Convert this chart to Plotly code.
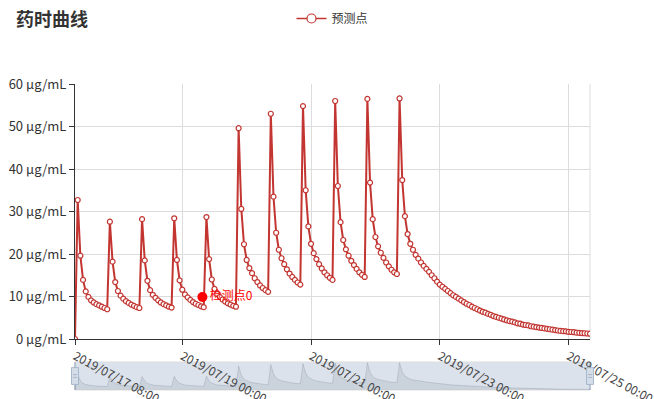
import pandas as pd
import plotly.graph_objects as go

# ---------------- data ----------------
start_time = "2019-07-17 08:00"          # first prediction point, hourly samples
cycle1 = [0, 32.7, 19.6, 13.9, 11.2, 9.9, 9.1, 8.6, 8.2, 7.9, 7.6, 7.3, 7.0]
cycle2 = [27.6, 18.2, 13.4, 11.3, 10.2, 9.5, 8.9, 8.5, 8.1, 7.8, 7.5, 7.3]
cycle3 = [28.2, 18.5, 13.7, 11.5, 10.4, 9.7, 9.1, 8.6, 8.2, 7.9, 7.6, 7.4]
cycle4 = [28.4, 18.6, 13.8, 11.6, 10.5, 9.8, 9.2, 8.7, 8.3, 8.0, 7.7, 7.5]
cycle5 = [28.7, 18.8, 14.0, 11.8, 10.6, 9.9, 9.3, 8.8, 8.4, 8.1, 7.8, 7.6]
cycle6 = [49.6, 30.6, 22.3, 18.6, 16.7, 15.5, 14.3, 13.4, 12.6, 12.0, 11.5, 11.1]
cycle7 = [53.0, 33.5, 25.0, 21.0, 19.0, 17.6, 16.4, 15.4, 14.6, 13.9, 13.3, 12.8]
cycle8 = [54.8, 35.0, 26.5, 22.4, 20.2, 18.8, 17.6, 16.6, 15.7, 15.0, 14.4, 13.9]
cycle9 = [56.0, 36.0, 27.5, 23.3, 21.1, 19.6, 18.4, 17.4, 16.5, 15.7, 15.1, 14.6]
cycle10 = [56.5, 36.8, 28.2, 24.0, 21.8, 20.3, 19.1, 18.0, 17.1, 16.3, 15.7, 15.3]
cycle11 = [56.6, 37.4, 28.9, 24.7, 22.4, 21.0, 19.8, 18.9, 18.0, 17.2, 16.5, 15.8]
tail = [15.0, 14.3, 13.5, 12.8, 12.3, 11.8, 11.3, 10.8, 10.3, 9.9,
        9.5, 9.1, 8.7, 8.3, 8.0, 7.6, 7.3, 7.0, 6.7, 6.4,
        6.2, 5.9, 5.7, 5.4, 5.2, 5.0, 4.8, 4.6, 4.4, 4.2,
        4.1, 3.9, 3.7, 3.6, 3.4, 3.3, 3.2, 3.0, 2.9, 2.8,
        2.7, 2.6, 2.5, 2.4, 2.3, 2.2, 2.1, 2.0, 1.9, 1.85,
        1.8, 1.7, 1.65, 1.6, 1.5, 1.45, 1.4, 1.35, 1.3, 1.25]

pred_values = (cycle1 + cycle2 + cycle3 + cycle4 + cycle5 + cycle6 + cycle7
               + cycle8 + cycle9 + cycle10 + cycle11 + tail)
pred_times = pd.date_range(start_time, periods=len(pred_values), freq="h")

check_times = ["2019-07-19 07:30"]
check_values = [9.9]
check_labels = ["检测点0"]

x_tickvals = ["2019-07-17 08:00", "2019-07-19 00:00", "2019-07-21 00:00",
              "2019-07-23 00:00", "2019-07-25 00:00"]
x_ticktext = ["2019/07/17 08:00", "2019/07/19 00:00", "2019/07/21 00:00",
              "2019/07/23 00:00", "2019/07/25 00:00"]
y_tickvals = [0, 10, 20, 30, 40, 50, 60]
y_ticktext = [f"{v} μg/mL" for v in y_tickvals]
x_range = ["2019-07-17 08:00", "2019-07-25 08:00"]

# ---------------- figure ----------------
RED = "#c23531"
FONT = "Noto Sans CJK SC, Noto Sans, sans-serif"

fig = go.Figure()

# slider data shadow (subplot x/y, drawn first so main labels sit on top)
fig.add_trace(go.Scatter(
    x=pred_times, y=pred_values, xaxis="x", yaxis="y",
    mode="lines", fill="tozeroy",
    line=dict(color="rgba(47,69,84,0.25)", width=0.6),
    fillcolor="rgba(47,69,84,0.10)",
    showlegend=False, hoverinfo="skip"))

fig.add_trace(go.Scatter(
    x=pred_times, y=pred_values, name="预测点", xaxis="x2", yaxis="y2",
    mode="lines+markers", legendgroup="pred", showlegend=False,
    line=dict(color=RED, width=2),
    marker=dict(symbol="circle", size=5, color="white",
                line=dict(color=RED, width=1.2)),
))

# legend entry only (larger icon as in the reference legend)
fig.add_trace(go.Scatter(
    x=[None], y=[None], name="预测点", xaxis="x2", yaxis="y2",
    mode="lines+markers", legendgroup="pred",
    line=dict(color=RED, width=1.5),
    marker=dict(symbol="circle", size=9, color="white",
                line=dict(color=RED, width=1.2)),
))

fig.add_trace(go.Scatter(
    x=check_times, y=check_values, xaxis="x2", yaxis="y2",
    mode="markers+text",
    text=check_labels, textposition="middle right",
    textfont=dict(color="#ff0000", size=12, family=FONT),
    marker=dict(color="#ff0000", size=10),
    showlegend=False))

fig.update_layout(
    width=654, height=399, autosize=False,
    margin=dict(l=75, r=64, t=84, b=9, autoexpand=False),
    paper_bgcolor="white", plot_bgcolor="rgba(0,0,0,0)",
    font=dict(family=FONT, size=12, color="#333"),
    title=dict(text="<b>药时曲线</b>", x=16/654, xanchor="left",
               y=1 - 20/399, yanchor="middle", xref="container", yref="container",
               font=dict(size=18, color="#333", family=FONT)),
    legend=dict(orientation="h", x=0.5, xanchor="center",
                y=1 - 4/399, yanchor="top", yref="container",
                font=dict(size=12, color="#333", family=FONT),
                bgcolor="rgba(0,0,0,0)", itemwidth=30),
    # slider axes
    xaxis=dict(type="date", range=x_range, domain=[0, 1], anchor="y",
               visible=False),
    yaxis=dict(range=[0, 58], domain=[0, 28/306], anchor="x",
               visible=False),
    # main axes
    xaxis2=dict(type="date", range=x_range, domain=[0, 1], anchor="y2",
                tickmode="array", tickvals=x_tickvals, ticktext=x_ticktext,
                tickangle=28, automargin=False, ticklabeloverflow="allow",
                showgrid=True, gridcolor="#dcdcdc", gridwidth=1,
                showline=True, linecolor="#333", linewidth=1,
                ticks="outside", ticklen=5, tickcolor="#333",
                tickfont=dict(size=12, color="#444"), zeroline=False),
    yaxis2=dict(range=[0, 60], domain=[51/306, 1], anchor="x2",
                tickmode="array", tickvals=y_tickvals, ticktext=y_ticktext,
                automargin=False, ticklabeloverflow="allow",
                showgrid=True, gridcolor="#dcdcdc", gridwidth=1,
                showline=True, linecolor="#333", linewidth=1,
                ticks="outside", ticklen=5, tickcolor="#333",
                ticklabelstandoff=0,
                tickfont=dict(size=13, color="#333"), zeroline=False),
    shapes=[
        # right border line of the grid
        dict(type="line", xref="x2 domain", yref="y2 domain", x0=1, x1=1,
             y0=0, y1=1, line=dict(color="#dcdcdc", width=1), layer="below"),
        # slider filler
        dict(type="rect", xref="x domain", yref="y domain", x0=0, x1=1,
             y0=0, y1=1, fillcolor="rgba(167,183,204,0.40)",
             line=dict(color="#dddddd", width=1), layer="below"),
        # slider edges
        dict(type="line", xref="x domain", yref="y domain", x0=0, x1=0,
             y0=0, y1=1, line=dict(color="#a7b7cc", width=1.5), layer="below"),
        dict(type="line", xref="x domain", yref="y domain", x0=1, x1=1,
             y0=0, y1=1, line=dict(color="#a7b7cc", width=1.5), layer="below"),
        # slider handles
        dict(type="rect", xref="x domain", yref="y domain", xsizemode="pixel",
             xanchor=0, x0=-3.5, x1=3.5, y0=0.2, y1=0.8,
             fillcolor="#d5dde8", line=dict(color="#a7b7cc", width=1)),
        dict(type="rect", xref="x domain", yref="y domain", xsizemode="pixel",
             xanchor=1, x0=-3.5, x1=3.5, y0=0.2, y1=0.8,
             fillcolor="#d5dde8", line=dict(color="#a7b7cc", width=1)),
        dict(type="line", xref="x domain", yref="y domain", xsizemode="pixel",
             xanchor=0, x0=-2, x1=2, y0=0.45, y1=0.45,
             line=dict(color="#a7b7cc", width=1)),
        dict(type="line", xref="x domain", yref="y domain", xsizemode="pixel",
             xanchor=0, x0=-2, x1=2, y0=0.55, y1=0.55,
             line=dict(color="#a7b7cc", width=1)),
        dict(type="line", xref="x domain", yref="y domain", xsizemode="pixel",
             xanchor=1, x0=-2, x1=2, y0=0.45, y1=0.45,
             line=dict(color="#a7b7cc", width=1)),
        dict(type="line", xref="x domain", yref="y domain", xsizemode="pixel",
             xanchor=1, x0=-2, x1=2, y0=0.55, y1=0.55,
             line=dict(color="#a7b7cc", width=1)),
    ],
)

fig.write_html("out.html",
               config={"displayModeBar": False},
               post_script="document.body.style.margin='0';"
                           "document.body.style.overflow='hidden';")
